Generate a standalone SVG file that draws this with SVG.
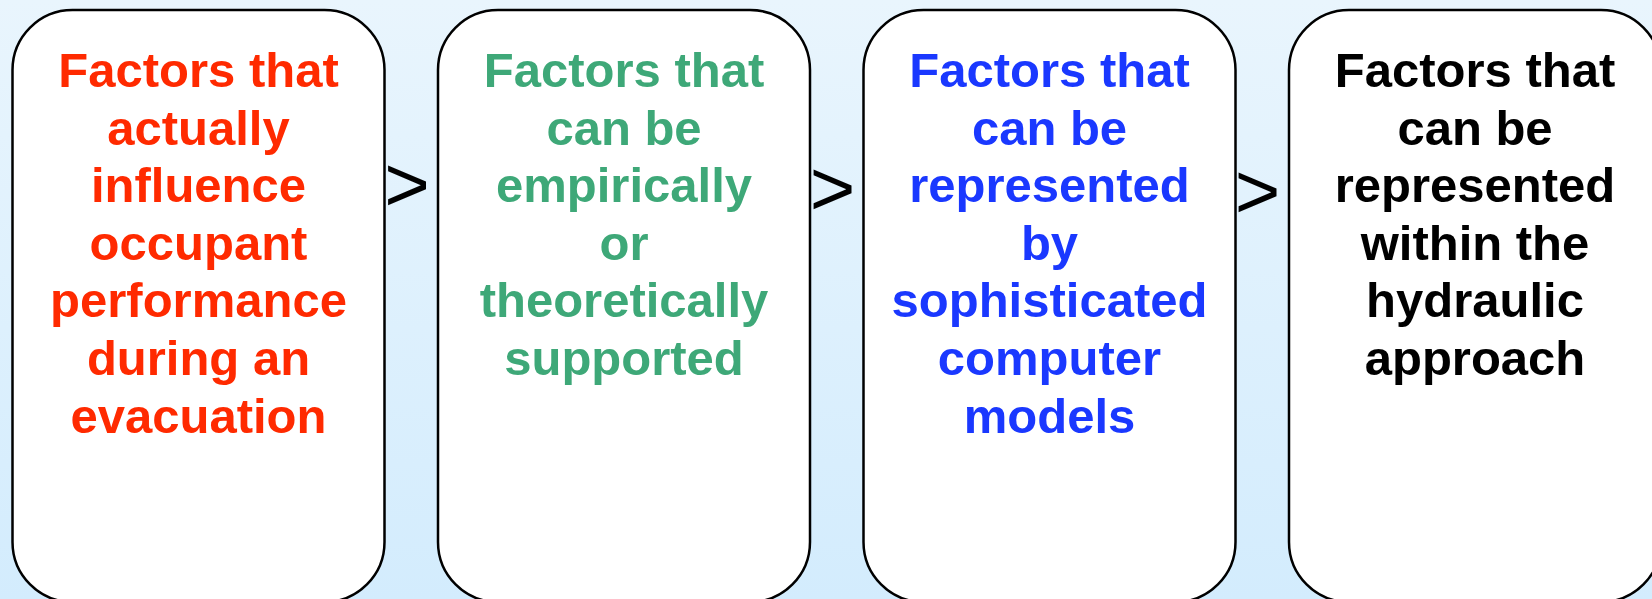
<svg xmlns="http://www.w3.org/2000/svg" width="1652" height="599" viewBox="0 0 1652 599">
<defs>
<linearGradient id="bg" x1="0" y1="0" x2="0" y2="1">
<stop offset="0" stop-color="#E9F5FD"/>
<stop offset="1" stop-color="#D3ECFD"/>
</linearGradient>
</defs>
<style>
.box{fill:#FFFFFF;stroke:#000000;stroke-width:2.5}
.t{font-family:"Liberation Sans",Arial,sans-serif;font-weight:bold;font-size:49px;text-anchor:middle}
.red{fill:#FF2A00}.green{fill:#3EA878}.blue{fill:#1A38FF}.black{fill:#000000}
.gt{font-family:"Liberation Sans",Arial,sans-serif;font-size:78px;fill:#000000;text-anchor:middle}
</style>
<rect x="0" y="0" width="1652" height="599" fill="url(#bg)"/>
<g id="connectors">
<text class="gt" x="407" y="211">&gt;</text>
<text class="gt" x="832.5" y="215">&gt;</text>
<text class="gt" x="1257.5" y="218">&gt;</text>
</g>
<g id="node1">
<rect class="box" x="12.5" y="10" width="372" height="592" rx="60" ry="60"/>
<text class="t red" x="198.5"><tspan x="198.5" y="87">Factors that</tspan><tspan x="198.5" y="144.6">actually</tspan><tspan x="198.5" y="202.2">influence</tspan><tspan x="198.5" y="259.8">occupant</tspan><tspan x="198.5" y="317.4">performance</tspan><tspan x="198.5" y="375">during an</tspan><tspan x="198.5" y="432.6">evacuation</tspan></text>
</g>
<g id="node2">
<rect class="box" x="438" y="10" width="372" height="592" rx="60" ry="60"/>
<text class="t green" x="624"><tspan x="624" y="87">Factors that</tspan><tspan x="624" y="144.6">can be</tspan><tspan x="624" y="202.2">empirically</tspan><tspan x="624" y="259.8">or</tspan><tspan x="624" y="317.4">theoretically</tspan><tspan x="624" y="375">supported</tspan></text>
</g>
<g id="node3">
<rect class="box" x="863.5" y="10" width="372" height="592" rx="60" ry="60"/>
<text class="t blue" x="1049.5"><tspan x="1049.5" y="87">Factors that</tspan><tspan x="1049.5" y="144.6">can be</tspan><tspan x="1049.5" y="202.2">represented</tspan><tspan x="1049.5" y="259.8">by</tspan><tspan x="1049.5" y="317.4">sophisticated</tspan><tspan x="1049.5" y="375">computer</tspan><tspan x="1049.5" y="432.6">models</tspan></text>
</g>
<g id="node4">
<rect class="box" x="1289" y="10" width="372" height="592" rx="60" ry="60"/>
<text class="t black" x="1475"><tspan x="1475" y="87">Factors that</tspan><tspan x="1475" y="144.6">can be</tspan><tspan x="1475" y="202.2">represented</tspan><tspan x="1475" y="259.8">within the</tspan><tspan x="1475" y="317.4">hydraulic</tspan><tspan x="1475" y="375">approach</tspan></text>
</g>
</svg>
